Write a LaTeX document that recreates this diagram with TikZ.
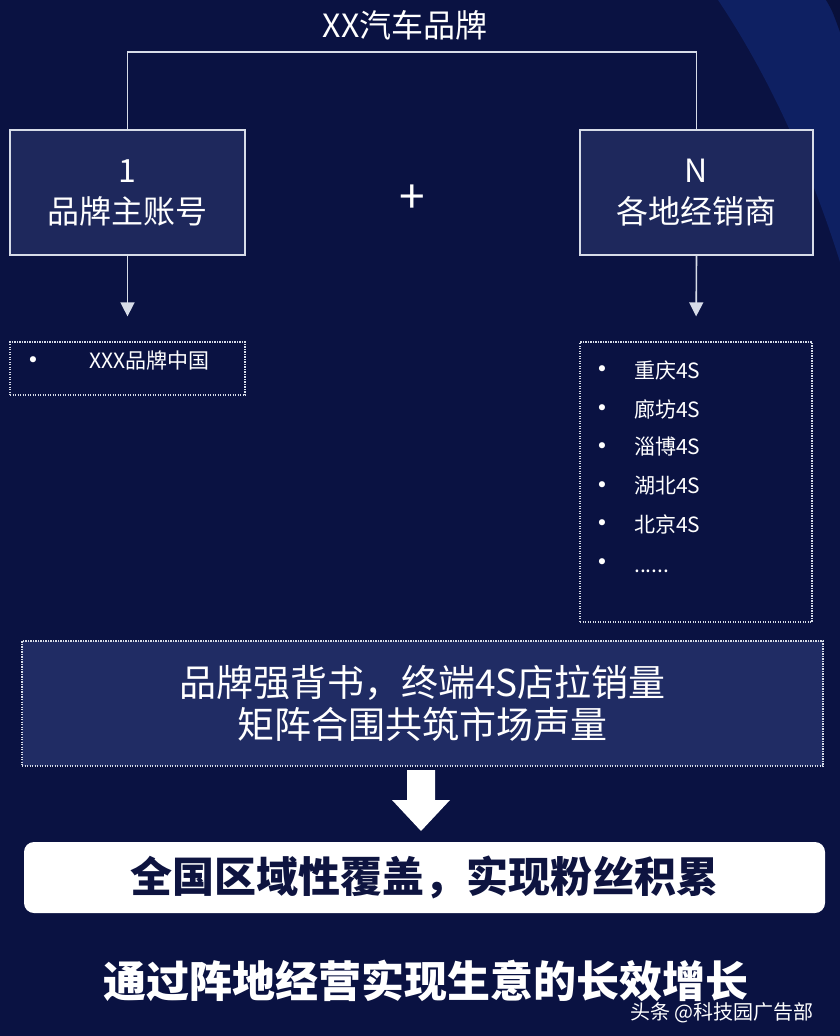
\documentclass[tikz,border=0pt]{standalone}
\usepackage{fontspec}
\setmainfont{Noto Sans CJK SC}
\newfontfamily\symfont{DejaVu Sans}
\usetikzlibrary{arrows.meta}
\definecolor{bgnavy}{RGB}{10,18,66}
\definecolor{arcblue}{RGB}{14,32,98}
\definecolor{arcdark}{RGB}{9,16,58}
\definecolor{boxfill}{RGB}{30,40,92}
\definecolor{midfill}{RGB}{32,44,100}
\definecolor{linegray}{RGB}{215,220,232}
\definecolor{navytext}{RGB}{14,20,64}
\tikzset{
  solidbox/.style={draw=linegray, line width=1.6pt, fill=boxfill, inner sep=0pt,
    text=white, align=center, font=\fontsize{32}{41}\selectfont},
  dotbox/.style={draw=linegray, line width=1.3pt, dash pattern=on 1.2pt off 1.3pt,
    inner sep=0pt},
  itemtext/.style={text=white, anchor=west, inner sep=0pt, font=\fontsize{21}{24}\selectfont},
  bulletmark/.style={text=white, inner sep=0pt, font=\symfont\fontsize{21}{24}\selectfont},
  thinarrow/.style={draw=linegray, line width=1.6pt, -{Triangle[width=14pt,length=14pt]}},
}
\begin{document}
\begin{tikzpicture}[x=1pt,y=-1pt]
\fill[bgnavy] (0,0) rectangle (840,1036);
\useasboundingbox (0,0) rectangle (840,1036);
% decorative background arc
\fill[arcblue] (718,0) .. controls (765,70) and (808,160) .. (840,262) -- (840,0) -- cycle;
\fill[arcdark] (826,0) .. controls (832,10) .. (840,32) -- (840,0) -- cycle;

% title
\node[text=white, font=\fontsize{32}{36}\selectfont, inner sep=0pt] (title) at (405,25) {XX汽车品牌};

% top boxes
\node[solidbox, minimum width=235pt, minimum height=125pt] (lbox) at (127.5,192.5) {1\\品牌主账号};
\node[solidbox, minimum width=233pt, minimum height=125pt] (rbox) at (696.5,192.5) {N\\各地经销商};
\node[text=white, font=\fontsize{46}{48}\selectfont, inner sep=0pt] (plus) at (412,199) {+};

% bracket
\coordinate (brk) at (411,52);
\draw[linegray, line width=1.6pt] (lbox.north) |- (brk) -| (rbox.north);

% list boxes
\node[dotbox, minimum width=235pt, minimum height=53pt] (llist) at (127.5,368.5) {};
\node[dotbox, minimum width=232pt, minimum height=280pt] (rlist) at (696,482) {};

\draw[thinarrow, shorten >=25pt] (lbox.south) -- (llist.north);
\draw[thinarrow, shorten >=25pt] (rbox.south) -- (rlist.north);

% left list content
\node[bulletmark] (lb1) at (33,362) {•};
\node[itemtext] (lt1) at (89,361) {XXX品牌中国};

% right list content
\node[bulletmark] (rb1) at (602,371) {•};
\node[itemtext] (rt1) at (634,370) {重庆4S};
\node[bulletmark] (rb2) at (602,410) {•};
\node[itemtext] (rt2) at (634,409) {廊坊4S};
\node[bulletmark] (rb3) at (602,448) {•};
\node[itemtext] (rt3) at (634,447) {淄博4S};
\node[bulletmark] (rb4) at (602,487) {•};
\node[itemtext] (rt4) at (634,486) {湖北4S};
\node[bulletmark] (rb5) at (602,525) {•};
\node[itemtext] (rt5) at (634,524) {北京4S};
\node[bulletmark] (rb6) at (602,564) {•};
\node[itemtext, anchor=base west] (rt6) at (634,572) {......};

% middle box
\node[dotbox, fill=midfill, minimum width=801pt, minimum height=125pt, text=white,
  align=center, font=\fontsize{37}{42}\selectfont] (mid) at (422.5,703.5)
  {品牌强背书，终端4S店拉销量\\矩阵合围共筑市场声量};

% white result box
\node[fill=white, rounded corners=10pt, minimum width=801pt, minimum height=71pt,
  inner sep=0pt, text=navytext, font=\bfseries\fontsize{42}{46}\selectfont] (res) at (424.5,877.5)
  {全国区域性覆盖，实现粉丝积累};

% block arrow
\fill[white] (407,770) -- (435,770) -- (435,800) -- (450,800) -- (421,831) -- (392,800) -- (407,800) -- cycle;

% bottom text
\node[text=white, inner sep=0pt, font=\bfseries\fontsize{43}{46}\selectfont] (bottom) at (426,981)
  {通过阵地经营实现生意的长效增长};
\node[text=white, inner sep=0pt, font=\fontsize{20}{24}\selectfont] (wm) at (722,1013)
  {头条 @科技园广告部};
\end{tikzpicture}
\end{document}
